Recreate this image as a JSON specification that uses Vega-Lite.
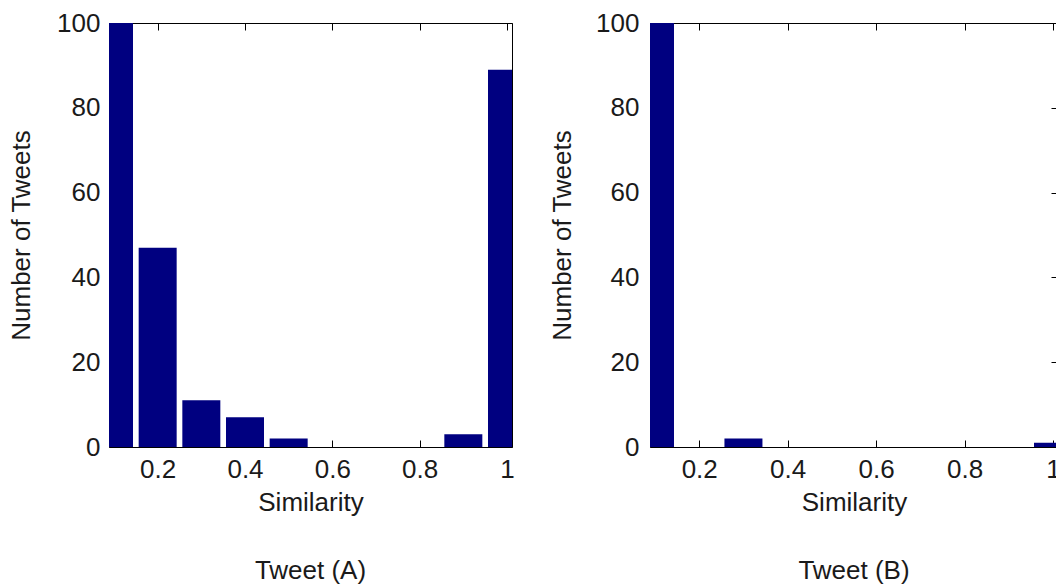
{
  "$schema": "https://vega.github.io/schema/vega-lite/v6.json",
  "padding": {"left": 8, "top": 9, "right": 0, "bottom": 0},
  "background": "white",
  "bounds": "flush",
  "spacing": 138,
  "config": {
    "font": "Liberation Sans",
    "view": {"stroke": "#000000", "strokeWidth": 1},
    "axis": {
      "labelFont": "Liberation Sans",
      "labelFontSize": 26,
      "labelColor": "#1a1a1a",
      "titleFont": "Liberation Sans",
      "titleFontSize": 26,
      "titleFontWeight": "normal",
      "titleColor": "#1a1a1a",
      "grid": false,
      "domain": false,
      "tickColor": "#000000"
    }
  },
  "datasets": {
    "a": [
      {"similarity": 0.1, "tweets": 100},
      {"similarity": 0.2, "tweets": 47},
      {"similarity": 0.3, "tweets": 11},
      {"similarity": 0.4, "tweets": 7},
      {"similarity": 0.5, "tweets": 2},
      {"similarity": 0.6, "tweets": 0},
      {"similarity": 0.7, "tweets": 0},
      {"similarity": 0.8, "tweets": 0},
      {"similarity": 0.9, "tweets": 3},
      {"similarity": 1.0, "tweets": 89}
    ],
    "b": [
      {"similarity": 0.1, "tweets": 100},
      {"similarity": 0.2, "tweets": 0},
      {"similarity": 0.3, "tweets": 2},
      {"similarity": 0.4, "tweets": 0},
      {"similarity": 0.5, "tweets": 0},
      {"similarity": 0.6, "tweets": 0},
      {"similarity": 0.7, "tweets": 0},
      {"similarity": 0.8, "tweets": 0},
      {"similarity": 0.9, "tweets": 0},
      {"similarity": 1.0, "tweets": 1}
    ]
  },
  "hconcat": [
    {
      "width": 403,
      "height": 424,
      "title": {"text": "Tweet (A)", "orient": "bottom", "offset": 43, "fontSize": 26, "font": "Liberation Sans", "fontWeight": "normal", "color": "#1a1a1a"},
      "data": {"name": "a"},
      "layer": [
        {
          "mark": {"type": "bar", "width": 38, "clip": true, "color": "#000080"},
          "encoding": {
            "x": {"field": "similarity", "type": "quantitative", "scale": {"domain": [0.1, 1], "nice": false, "zero": false},
              "axis": {"title": "Similarity", "values": [0.2, 0.4, 0.6, 0.8, 1], "format": "~g", "ticks": false, "labelPadding": 9, "titlePadding": 7, "labelFlush": false}},
            "y": {"field": "tweets", "type": "quantitative", "scale": {"domain": [0, 100], "nice": false},
              "axis": {"title": "Number of Tweets", "values": [0, 20, 40, 60, 80, 100], "ticks": false, "labelPadding": 9, "titlePadding": 22, "labelFlush": false}}
          }
        },
        {
          "mark": {"type": "point", "opacity": 0},
          "encoding": {
            "x": {"field": "similarity", "type": "quantitative", "axis": {"orient": "top", "title": null, "labels": false, "values": [0.2, 0.4, 0.6, 0.8, 1], "tickSize": -7}},
            "y": {"field": "tweets", "type": "quantitative", "axis": {"orient": "right", "title": null, "labels": false, "values": [0, 20, 40, 60, 80, 100], "tickSize": -7}}
          }
        },
        {
          "mark": {"type": "point", "opacity": 0},
          "encoding": {
            "x": {"field": "similarity", "type": "quantitative", "axis": {"orient": "bottom", "title": null, "labels": false, "values": [0.2, 0.4, 0.6, 0.8, 1], "tickSize": -7}},
            "y": {"field": "tweets", "type": "quantitative", "axis": {"orient": "left", "title": null, "labels": false, "values": [0, 20, 40, 60, 80, 100], "tickSize": -7}}
          }
        }
      ],
      "resolve": {"axis": {"x": "independent", "y": "independent"}}
    },
    {
      "width": 408,
      "height": 424,
      "title": {"text": "Tweet (B)", "orient": "bottom", "offset": 43, "fontSize": 26, "font": "Liberation Sans", "fontWeight": "normal", "color": "#1a1a1a"},
      "data": {"name": "b"},
      "layer": [
        {
          "mark": {"type": "bar", "width": 38, "clip": true, "color": "#000080"},
          "encoding": {
            "x": {"field": "similarity", "type": "quantitative", "scale": {"domain": [0.1, 1], "nice": false, "zero": false},
              "axis": {"title": "Similarity", "values": [0.2, 0.4, 0.6, 0.8, 1], "format": "~g", "ticks": false, "labelPadding": 9, "titlePadding": 7, "labelFlush": false}},
            "y": {"field": "tweets", "type": "quantitative", "scale": {"domain": [0, 100], "nice": false},
              "axis": {"title": "Number of Tweets", "values": [0, 20, 40, 60, 80, 100], "ticks": false, "labelPadding": 11, "titlePadding": 20, "labelFlush": false}}
          }
        },
        {
          "mark": {"type": "point", "opacity": 0},
          "encoding": {
            "x": {"field": "similarity", "type": "quantitative", "axis": {"orient": "top", "title": null, "labels": false, "values": [0.2, 0.4, 0.6, 0.8, 1], "tickSize": -7}},
            "y": {"field": "tweets", "type": "quantitative", "axis": {"orient": "right", "title": null, "labels": false, "values": [0, 20, 40, 60, 80, 100], "tickSize": -7}}
          }
        },
        {
          "mark": {"type": "point", "opacity": 0},
          "encoding": {
            "x": {"field": "similarity", "type": "quantitative", "axis": {"orient": "bottom", "title": null, "labels": false, "values": [0.2, 0.4, 0.6, 0.8, 1], "tickSize": -7}},
            "y": {"field": "tweets", "type": "quantitative", "axis": {"orient": "left", "title": null, "labels": false, "values": [0, 20, 40, 60, 80, 100], "tickSize": -7}}
          }
        }
      ],
      "resolve": {"axis": {"x": "independent", "y": "independent"}}
    }
  ]
}
